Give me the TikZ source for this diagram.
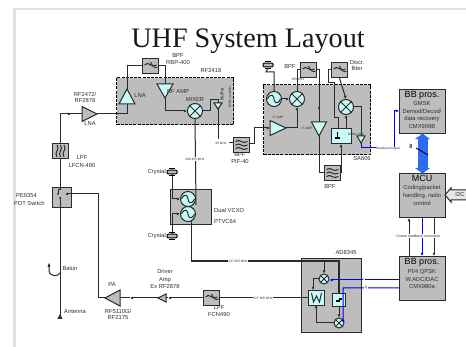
\documentclass[tikz,border=0pt]{standalone}
\usepackage{fontspec}
\setmainfont{Liberation Sans}
\newfontfamily\titlefont{Liberation Serif}
\usetikzlibrary{calc,arrows.meta}
\definecolor{boxgray}{HTML}{BDBDBD}
\definecolor{cyanlt}{HTML}{C8FAFA}
\definecolor{linec}{HTML}{2A2A2A}
\definecolor{txt}{HTML}{2E2E2E}
\definecolor{bluewire}{HTML}{0000F0}
\definecolor{bigblue}{HTML}{2F6BF0}
\tikzset{
 wire/.style={draw=linec,line width=1pt,line join=miter},
 awire/.style={wire,-{Latex[length=3.2pt,width=3.2pt]}},
 bwire/.style={draw=bluewire,line width=1pt},
 abwire/.style={bwire,-{Latex[length=3.2pt,width=3.2pt]}},
 lab/.style={font=\fontsize{5.8}{6}\selectfont,text=txt,inner sep=0pt},
 tinylab/.style={font=\fontsize{3.2}{3.5}\selectfont,text=txt,inner sep=.5pt},
 tinywhite/.style={tinylab,fill=white},
 graybox/.style={draw=linec,line width=1pt,fill=boxgray,inner sep=0pt,anchor=north west},
 cyanbox/.style={draw=linec,line width=1pt,fill=cyanlt,inner sep=0pt,anchor=north west},
 filt/.style={draw=linec,line width=1pt,fill=boxgray,inner sep=0pt,anchor=north west,minimum width=16pt,minimum height=15pt},
 dashbox/.style={draw=black,dash pattern=on 3pt off 1.2pt,line width=1.1pt,fill=boxgray,inner sep=0pt,anchor=north west},
 round/.style={circle,draw=linec,line width=1pt,fill=cyanlt,inner sep=0pt},
 bigbox/.style={draw=linec,line width=1.1pt,fill=boxgray,inner sep=0pt,anchor=north west,minimum width=46pt},
 bbtitle/.style={font=\fontsize{9}{9}\selectfont,text=black,inner sep=0pt},
 trifill/.style={draw=linec,line width=1pt,fill=#1},
}
% triangle: name, apex, base centre, half width, fill
\newcommand{\trig}[5]{%
 \coordinate (#1) at (#2); \coordinate (#1b) at (#3);
 \draw[trifill=#5] (#1) -- ($(#1b)!#4pt!90:(#1)$) -- ($(#1b)!#4pt!-90:(#1)$) -- cycle;}
\newcommand{\mixr}[1]{\draw[linec,line width=1pt] (#1.45)--(#1.225) (#1.135)--(#1.315);}
\newcommand{\vco}[1]{\draw[linec,line width=1pt] ($(#1.west)+(1.5,0)$) .. controls ($(#1.center)+(-3,-7)$) and ($(#1.center)+(0,-3)$) .. (#1.center) .. controls ($(#1.center)+(0,3)$) and ($(#1.center)+(3,7)$) .. ($(#1.east)+(-1.5,0)$);}
\newcommand{\onewave}[1]{\draw[linec,line width=1pt] ($(#1.center)+(-6,-1)$) .. controls ($(#1.center)+(-2,-6)$) and ($(#1.center)+(1,3)$) .. ($(#1.center)+(6,-1)$);
 \draw[linec,line width=.9pt] ($(#1.center)+(0,-4)$) .. controls ($(#1.center)+(2,0)$) and ($(#1.center)+(4,3)$) .. ($(#1.center)+(7,1)$);}
\newcommand{\threewave}[1]{\foreach \dy in {-3.5,0,3.5}{\draw[linec,line width=1pt] ($(#1.center)+(-6,\dy)$) .. controls ($(#1.center)+(-2,\dy-3.5)$) and ($(#1.center)+(1,\dy+3.5)$) .. ($(#1.center)+(6,\dy)$);}}
\newcommand{\xtal}[1]{\draw[fill=boxgray,draw=black,line width=1pt,rounded corners=1pt] ($(#1)+(-5,-1.8)$) rectangle ($(#1)+(5,1.8)$); \draw[black,line width=1.1pt] ($(#1)+(-3,-3.2)$)--($(#1)+(3,-3.2)$) ($(#1)+(-3,3.2)$)--($(#1)+(3,3.2)$);}
\begin{document}
\begin{tikzpicture}[x=1pt,y=-1pt]
\useasboundingbox (0,0) rectangle (466,347);
\fill[white] (0,0) rectangle (466,347);
\fill[black!12] (13,8) rectangle (15.5,347);
\fill[black!12] (13,8) rectangle (466,10);
\node[font=\titlefont\fontsize{28.2}{30}\selectfont,inner sep=0pt,text=black!90] (title) at (248,41.5) {UHF System Layout};

% dashed IC boxes
\node[dashbox,minimum width=117pt,minimum height=47pt] (rf2418) at (116,77) {};
\node[dashbox,minimum width=107pt,minimum height=70pt] (sa606) at (263,84) {};
\node[graybox,minimum width=60pt,minimum height=74pt] (ad8345) at (301,258) {};
\node[graybox,minimum width=41pt,minimum height=35pt] (vcxo) at (170,189) {};

% --- filters
\node[filt] (bpf400) at (142,58) {};
\node[filt] (lfcn) at (52,143) {};
\node[filt] (pif40) at (233,137) {};
\node[filt] (fcn490) at (203,290) {};
\node[filt] (bpf455) at (300,62) {};
\node[filt] (discr) at (331,62) {};
\node[filt] (bpflow) at (324,165) {};
\node[graybox,minimum width=19pt,minimum height=20pt] (switch) at (52,187) {};

% --- mixers & oscillators
\node[round,minimum size=15pt] (mix1) at (195,111) {};
\node[round,minimum size=15pt] (osc1) at (188,199) {};
\node[round,minimum size=15pt] (osc2) at (188,214) {};
\node[round,minimum size=15pt] (osc3) at (274,99) {};
\node[round,minimum size=15pt] (mix2) at (297,99) {};
\node[round,minimum size=15pt] (mix3) at (346,107) {};
\node[round,minimum size=10pt] (mix4) at (324,279) {};
\node[round,minimum size=10pt] (mix5) at (339,323) {};
\node[cyanbox,minimum width=20pt,minimum height=15pt] (lim) at (331,128) {};
\node[cyanbox,minimum width=16pt,minimum height=15pt] (sawf) at (308,290) {};
\node[cyanbox,minimum width=13pt,minimum height=13pt] (pll) at (332,293) {};
\mixr{mix1}\mixr{mix2}\mixr{mix3}\mixr{mix4}\mixr{mix5}
\vco{osc1}\vco{osc2}\vco{osc3}
\onewave{bpf400}\onewave{bpf455}\onewave{discr}\onewave{fcn490}
\threewave{pif40}\threewave{bpflow}
\foreach \dx in {-3.5,0,3.5}{\draw[linec,line width=1pt] ($(lfcn.center)+(\dx,-6)$) .. controls ($(lfcn.center)+(\dx+3.5,-1)$) and ($(lfcn.center)+(\dx-3.5,1)$) .. ($(lfcn.center)+(\dx,6)$);}
\draw[linec,line width=1pt] ($(sawf.center)+(-5,-5)$)--($(sawf.center)+(-3,4)$)--($(sawf.center)+(0,-2)$)--($(sawf.center)+(3,4)$)--($(sawf.center)+(5,-5)$);
\fill[black] ($(lim.center)+(-5,-4)$) rectangle ($(lim.center)+(-3.5,1)$);
\fill[black] ($(lim.center)+(-7,1)$) rectangle ($(lim.center)+(-2,3)$);
\fill[black] ($(pll.center)+(-3,0)$) rectangle ($(pll.center)+(1,2)$);
\fill[black] ($(pll.center)+(0,-2)$) rectangle ($(pll.center)+(2.5,0)$);

% --- triangles
\trig{lnaint}{127,89}{127,104}{8}{cyanlt}
\trig{rfamp}{165,98}{165,84}{8}{cyanlt}
\trig{buf1}{218,109}{218,103}{4}{cyanlt}
\trig{lnaext}{97,114}{82,114}{7.5}{boxgray}
\trig{pa}{105,298}{120,298}{8}{boxgray}
\trig{drv}{158,298}{166,298}{4}{boxgray}
\trig{ifa}{286,128}{270,128}{7.5}{cyanlt}
\trig{ifb}{319,136}{319,122}{7.5}{cyanlt}
\trig{buf2}{361,143}{361,136}{4}{cyanlt}

% --- bend points
\coordinate (t1) at (71,114);
\coordinate (t2) at (130,298);
\coordinate (t3) at (168,298);
\coordinate (ant) at (60,315);
\coordinate (xt1) at (172,172);
\coordinate (xt2) at (172,236);
\coordinate (xt3) at (268,65);
\coordinate (swc) at (65,194);
\coordinate (ju1) at (320,261);
\coordinate (ju2) at (324,261);
\coordinate (ju3) at (339,261);

% --- wires
\draw[wire] (lfcn.north) |- (t1);
\draw[awire] (60,114) -- (t1);
\draw[wire] (t1) -- (lnaextb);
\draw[wire] (lnaext) -| (lnaintb);
\draw[wire] (lnaint) |- (bpf400.west);
\draw[wire] (bpf400.east) -| (rfampb);
\draw[awire] (rfamp) |- (mix1.west);
\draw[wire] (mix1.east) -- (210,111) |- (218,100) -- (buf1b);
\draw[wire] (buf1) -- (218,139);
\draw[wire] (229,143) -- (pif40.west|-229,143);
\draw[wire,line width=1pt] (mix1.south) -- (osc1.east|-0,205) ;
\draw[wire] (lfcn.south) -- (switch.north-|lfcn.south);
\draw[wire] (60,187) -- (60,190) (60,198)--(ant);
\draw[wire] (60,190)--(58,190)--(58,194);
\fill[linec] (58,194) circle (1pt) (60,198) circle (1pt);
\draw[awire] (98,194) -- (swc);
\draw[wire] (switch.east|-swc) -| (98,298) -- (pa);
\draw[wire] (pab) -- (t2);
\draw[awire] (drv) -- (t2);
\draw[wire] (drvb) -- (t3);
\draw[awire] (fcn490.west) -- (t3);
\draw[wire] (fcn490.east) -- (sawf.west);
\fill[linec] (60,319) ++(-2.6,0) -- ++(5.2,0) -- ++(-2.6,-5) -- cycle;
\draw[linec,line width=1pt] (49,264) -- (49,270) .. controls (49,277) and (58,277) .. (60,273);
\fill[linec] (49,263) -- (47.5,267) -- (50.5,267) -- cycle;
% crystals to vco
\draw[wire] (xt1) -- (172,199);
\draw[awire] (172,199) -- (osc1.west);
\draw[wire] (xt2) -- (172,214);
\draw[awire] (172,214) -- (osc2.west);
\xtal{xt1}\xtal{xt2}\xtal{xt3}
\draw[wire] (xt3)++(0,3) -- (266,72) -| (osc3.north);
\draw[wire,line width=1.1pt] (osc2.south) ++(3.5,-.5) -- (191.5,261) -- (ju3) -- (pll.north-|ju3);
\draw[awire] (osc3.east) -- (mix2.west);
\draw[wire] (mix2.north) |- (bpf455.west);
\draw[wire] (bpf455.east) -- (319,70) -- (ifbb);
\draw[-{Latex[length=2.6pt,width=2.6pt]},linec,line width=1pt] (319,100) -- (319,110);
\draw[wire] (ifb) |- (bpflow.west);
\draw[wire] (bpflow.east) -- (341,172);
\draw[awire] (341,172) -- (lim.south-|341,172);
\draw[awire] (ifa) -- (297,128) -- (mix2.south);
\draw[awire] (pif40.east|-0,144) -- (254,144) -- (254,128) -- (ifab);
\draw[wire] (discr.west) -- (328,70) -- (328,83) -- (334,83) -- (334,118) -- (338,118) -- (338,128);
\draw[awire] (discr.south) -- (mix3.north);
\draw[awire] (lim.north-|mix3) -- (mix3.south);
\draw[wire] (mix3.east) -| (buf2b);
% AD8345
\draw[awire] (ju2) -- (mix4.north);
\fill[linec] (ju1) circle (1.1pt) (ju2) circle (1.1pt);
\draw[awire] (mix4.west) -- (313,279) -- (313,290);
\draw[awire] (mix5.west) -- (316,323) -- (316,305);
\draw[awire] (pll.south) -- (mix5.north);

% --- big boxes
\node[bigbox,minimum height=44pt] (bb1) at (399,89) {};
\node[bigbox,minimum height=44pt] (mcu) at (399,173) {};
\node[bigbox,minimum height=44pt] (bb2) at (399,256) {};
\draw[{Latex[length=6pt,width=17pt]}-{Latex[length=6pt,width=17pt]},bigblue,line width=10pt,shorten <=-1pt,shorten >=-1pt] (bb1.south) -- (mcu.north);
\draw[black,line width=.9pt] (416,148) -- (428,155);
\draw[awire] (bb2.north-|409,0) -- (mcu.south-|409,0);
\draw[abwire] (mcu.south-|422,0) -- (bb2.north-|422,0);
\draw[awire] (mcu.south-|434,0) -- (bb2.north-|434,0);
\draw[abwire] (bb2.west|-0,280) -- (mix4.east|-0,280);
\fill[linec] (339,279.5) circle (1.1pt);
\draw[abwire] (bb2.west|-0,288) -- (343,288) -- (343,320) -- (344,323);
\draw[abwire] (buf2) -- (361,148) -- (394,148) -- (394,111) -- (bb1.west|-0,111);
\draw[draw=linec,line width=1pt,fill=boxgray!40] (466,190) -- (451,190) -- (451,188) -- (445,195) -- (451,202) -- (451,200) -- (466,200);

% --- text
\node[lab] (t-bpf) at (178,56) {BPF};
\node[lab] (t-rbp) at (178,63) {RBP-400};
\node[lab] (t-rf2418) at (211,71) {RF2418};
\node[lab] (t-lna1) at (140,96) {LNA};
\node[lab] (t-rfamp) at (178,92) {RF AMP};
\node[lab] (t-mixer) at (195,100) {MIXER};
\node[lab,rotate=90,font=\fontsize{4.8}{5}\selectfont] (t-buf) at (222,94) {Buffer};
\node[tinylab,rotate=90] (t-bufs) at (230,97) {Buffer amplifier};
\node[tinywhite] (t-45) at (221,143) {45 MHz};
\node[tinywhite] (t-392) at (195,159) {392.305 MHz};
\node[lab] (t-rf1) at (85,94) {RF2472/};
\node[lab] (t-rf2) at (85,101) {RF2878};
\node[lab] (t-lna2) at (90,124) {LNA};
\node[lab] (t-lpf1) at (82,158) {LPF};
\node[lab] (t-lpf2) at (82,166) {LFCN-490};
\node[lab,anchor=west] (t-pe) at (16,196) {PE9354};
\node[lab,anchor=west] (t-pdt) at (14,203) {PDT Switch};
\node[lab] (t-bal) at (70,268) {Balun};
\node[lab] (t-ant) at (75,312) {Antenna};
\node[lab] (t-pa) at (112,285) {PA};
\node[lab] (t-rf3) at (118,311) {RF5110G/};
\node[lab] (t-rf4) at (118,318) {RF2175};
\node[lab] (t-d1) at (165,271) {Driver};
\node[lab] (t-d2) at (165,280) {Amp};
\node[lab] (t-d3) at (165,287) {Ex RF2878};
\node[lab] (t-lpf3) at (219,308) {LPF};
\node[lab] (t-lpf4) at (219,315) {FCN490};
\node[lab,anchor=east] (t-x1) at (166,172) {Crystal};
\node[lab,anchor=east] (t-x2) at (166,236) {Crystal};
\node[lab,anchor=west] (t-dv) at (214,210) {Dual VCXO};
\node[lab,anchor=west] (t-pt) at (214,222) {PTVC64};
\node[lab] (t-b2) at (240,155) {BPF};
\node[lab] (t-pif) at (240,162) {PIF-40};
\node[lab] (t-b3) at (290,67) {BPF};
\node[tinylab] (t-455) at (298,79) {455 KHz};
\node[lab] (t-dis) at (357,62) {Discr.};
\node[lab] (t-fil) at (357,68) {filter};
\node[tinylab] (t-if1) at (278,117) {IF AMP};
\node[tinylab] (t-if2) at (307,128) {IF AMP};
\node[tinylab] (t-buf2) at (356,135) {Buffer amp};
\node[tinywhite] (t-base) at (388,149) {Baseband signal};
\node[lab] (t-sa) at (362,159) {SA606};
\node[lab] (t-bpf5) at (330,187) {BPF};
\node[lab] (t-ad) at (346,253) {AD8345};
\node[tinywhite] (t-137) at (238,261) {137.305 MHz};
\node[tinywhite] (t-idt) at (263,298) {IDT 305 MHz};
\node[tinywhite] (t-i) at (364,279) {I};
\node[tinywhite] (t-q) at (366,288) {Q};
\node[tinywhite,font=\fontsize{3.6}{4}\selectfont] (t-comm) at (418,236) {Comm.readback command};
\node[lab,font=\fontsize{5.5}{6}\selectfont\bfseries] (t-8) at (411,147) {8};
\node[lab] (t-i2c) at (460,195) {I2C};
\node[bbtitle] (b1t) at (422,95) {BB pros.};
\node[lab] at (422,103.5) (b1a) {GMSK};
\node[lab] at (422,111.5) (b1b) {Demod/Decod/};
\node[lab] at (422,119) (b1c) {data recovery};
\node[lab] at (422,127) (b1d) {CMX909B};
\node[bbtitle] (m1t) at (422,178.5) {MCU};
\node[lab] at (422,188) (m1a) {Coding/packet};
\node[lab] at (422,196) (m1b) {handling, radio};
\node[lab] at (422,203) (m1c) {control};
\node[bbtitle] (b2t) at (422,262) {BB pros.};
\node[lab] at (422,272) (b2a) {PI/4 QPSK};
\node[lab] at (422,279) (b2b) {W.ADC/DAC};
\node[lab] at (422,287) (b2c) {CMX980a};
\end{tikzpicture}
\end{document}
